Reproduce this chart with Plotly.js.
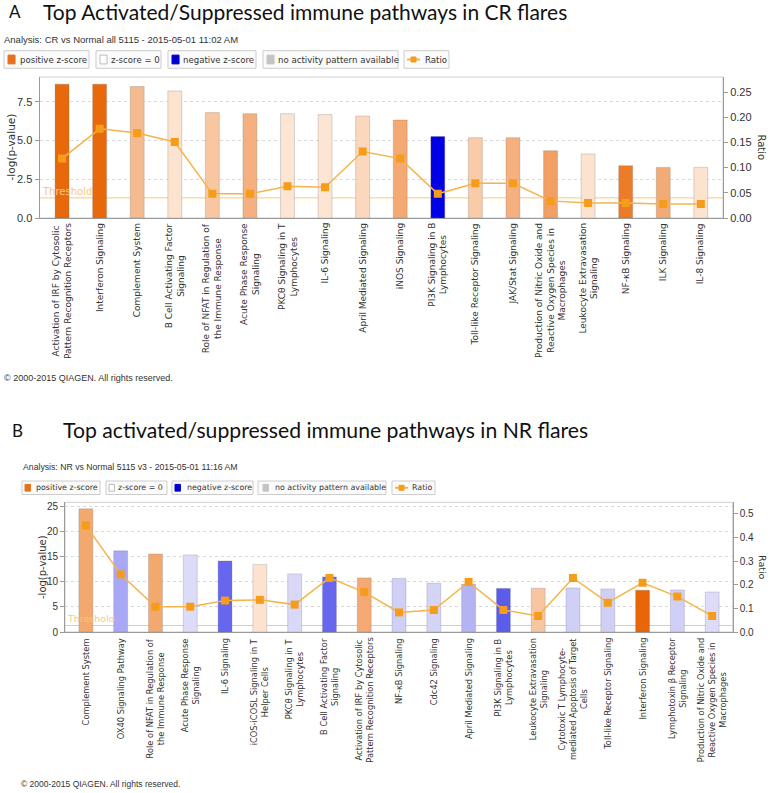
<!DOCTYPE html>
<html>
<head>
<meta charset="utf-8">
<script src="https://cdn.plot.ly/plotly-3.0.1.min.js"></script>
<style>html,body{margin:0;padding:0;background:#fff;}#chart{width:770px;height:793px;}</style>
</head>
<body>
<div id="chart"></div>
<script>
// ---------- DATA: Panel A (CR flares) ----------
const pathwaysA = [
  "Activation of IRF by Cytosolic<br>Pattern Recognition Receptors",
  "Interferon Signaling",
  "Complement System",
  "B Cell Activating Factor<br>Signaling",
  "Role of NFAT in Regulation of<br>the Immune Response",
  "Acute Phase Response<br>Signaling",
  "PKCθ Signaling in T<br>Lymphocytes",
  "IL-6 Signaling",
  "April Mediated Signaling",
  "iNOS Signaling",
  "PI3K Signaling in B<br>Lymphocytes",
  "Toll-like Receptor Signaling",
  "JAK/Stat Signaling",
  "Production of Nitric Oxide and<br>Reactive Oxygen Species in<br>Macrophages",
  "Leukocyte Extravasation<br>Signaling",
  "NF-κB Signaling",
  "ILK Signaling",
  "IL-8 Signaling"
];
const negLogPA = [8.64, 8.64, 8.49, 8.21, 6.81, 6.74, 6.74, 6.68, 6.59, 6.33, 5.26, 5.19, 5.19, 4.35, 4.14, 3.38, 3.27, 3.27];
const ratioA   = [0.118, 0.177, 0.169, 0.151, 0.048, 0.048, 0.063, 0.061, 0.132, 0.118, 0.048, 0.069, 0.069, 0.034, 0.030, 0.030, 0.028, 0.028];
const thresholdA = 1.3;

// ---------- DATA: Panel B (NR flares) ----------
const pathwaysB = [
  "Complement System",
  "OX40 Signaling Pathway",
  "Role of NFAT in Regulation of<br>the Immune Response",
  "Acute Phase Response<br>Signaling",
  "IL-6 Signaling",
  "iCOS-iCOSL Signaling in T<br>Helper Cells",
  "PKCθ Signaling in T<br>Lymphocytes",
  "B Cell Activating Factor<br>Signaling",
  "Activation of IRF by Cytosolic<br>Pattern Recognition Receptors",
  "NF-κB Signaling",
  "Cdc42 Signaling",
  "April Mediated Signaling",
  "PI3K Signaling in B<br>Lymphocytes",
  "Leukocyte Extravasation<br>Signaling",
  "Cytotoxic T Lymphocyte-<br>mediated Apoptosis of Target<br>Cells",
  "Toll-like Receptor Signaling",
  "Interferon Signaling",
  "Lymphotoxin β Receptor<br>Signaling",
  "Production of Nitric Oxide and<br>Reactive Oxygen Species in<br>Macrophages"
];
const negLogPB = [24.6, 16.2, 15.6, 15.4, 14.2, 13.5, 11.6, 11.0, 10.8, 10.7, 9.75, 9.55, 8.7, 8.75, 8.8, 8.6, 8.35, 8.4, 8.0];
const ratioB   = [0.451, 0.244, 0.107, 0.107, 0.133, 0.136, 0.116, 0.229, 0.169, 0.083, 0.093, 0.212, 0.093, 0.068, 0.229, 0.124, 0.208, 0.150, 0.068];
const thresholdB = 1.3;

// ---------- TEXT ----------
const titleA = "Top Activated/Suppressed immune pathways in CR flares";
const titleB = "Top activated/suppressed immune pathways in NR flares";
const analysisA = "Analysis: CR vs Normal all 5115 - 2015-05-01 11:02 AM";
const analysisB = "Analysis: NR vs Normal 5115 v3 - 2015-05-01 11:16 AM";
const legendLabels = ["positive z-score", "z-score = 0", "negative z-score", "no activity pattern available", "Ratio"];
const copyright = "© 2000-2015 QIAGEN. All rights reserved.";

// ---------- STYLE (bar colours encode z-score) ----------
const barColorsA = ["#e8690c","#e8690c","#f5bb90","#fbe3d0","#f8c6a0","#f4b07f","#fde5d3","#fde5d3","#fbd8bd","#f4a872",
                    "#0000e6","#f9cba8","#f5b080","#f19f62","#fce3d0","#ec7c28","#f3ab76","#fce3d0"];
const barColorsB = ["#f3a86e","#a8a8f6","#f3a86e","#dcdcf8","#6666ee","#fde3cf","#d8d8f8","#6666ee","#f4aa72","#d0d0f6",
                    "#d4d4f7","#b4b4f4","#5c5cea","#f7c6a0","#d0d0f6","#d0d0f6","#e86508","#d0d0f6","#dcdcf8"];
const legendSwatch = ["#e8701a","#ffffff","#0000d0","#c4c4c4"];

const W = 770, H = 793;
const px = x => x / W;
const py = y => 1 - y / H;

const lineCol = "#f5b44a", markCol = "#f59c1a", thrCol = "#f7c97f";
const axisFont = {family: "Liberation Sans, Arial, sans-serif", size: 11, color: "#333"};

const traces = [
  {type: "bar", x: pathwaysA, y: negLogPA, xaxis: "x", yaxis: "y", width: 0.37,
   marker: {color: barColorsA, line: {color: "rgba(120,100,90,0.25)", width: 1}}, hoverinfo: "x+y"},
  {type: "scatter", mode: "lines+markers", x: pathwaysA, y: ratioA, xaxis: "x", yaxis: "y2",
   line: {color: lineCol, width: 1.5}, marker: {symbol: "square", size: 8, color: markCol}},
  {type: "bar", x: pathwaysB, y: negLogPB, xaxis: "x2", yaxis: "y3", width: 0.4,
   marker: {color: barColorsB, line: {color: "rgba(110,110,140,0.25)", width: 1}}, hoverinfo: "x+y"},
  {type: "scatter", mode: "lines+markers", x: pathwaysB, y: ratioB, xaxis: "x2", yaxis: "y4",
   line: {color: lineCol, width: 1.5}, marker: {symbol: "square", size: 8, color: markCol}}
];

const catAxis = (dom, anchor, n) => ({
  domain: dom, anchor: anchor, type: "category", range: [-0.6, n - 1 + 0.59],
  showticklabels: false,
  showline: true, linecolor: "#9a9a9a", linewidth: 1, ticks: "", showgrid: false, zeroline: false,
  automargin: false, fixedrange: true
});
const leftAxis = (dom, anchor, range, dtick, fmt, size) => ({
  domain: dom, anchor: anchor, range: range, dtick: dtick, tick0: 0, tickformat: fmt,
  showline: true, linecolor: "#9a9a9a", linewidth: 1, ticks: "outside", ticklen: 4, tickcolor: "#9a9a9a",
  showgrid: true, gridcolor: "#d9d9d9", griddash: "3px,3px", zeroline: false,
  tickfont: Object.assign({}, axisFont, {size: size}), automargin: false, fixedrange: true
});
const rightAxis = (over, anchor, range, dtick, fmt, size) => ({
  overlaying: over, anchor: anchor, side: "right", range: range, dtick: dtick, tick0: 0, tickformat: fmt,
  showline: true, linecolor: "#9a9a9a", linewidth: 1, ticks: "outside", ticklen: 4, tickcolor: "#9a9a9a",
  showgrid: false, zeroline: false, tickfont: Object.assign({}, axisFont, {size: size}), automargin: false, fixedrange: true
});

const domAx = [px(39.5), px(723)], domAy = [py(218), py(77)];
const domBx = [px(65), px(732.7)], domBy = [py(632), py(502.3)];

const shapes = [], annotations = [];

// category labels (rotated, lines centred like the original)
pathwaysA.forEach(c => annotations.push({xref: "x", yref: "paper", x: c, y: py(221), xanchor: "center", yanchor: "top",
  textangle: -90, align: "center", showarrow: false, text: c,
  font: {family: "DejaVu Sans, sans-serif", size: 9.0, color: "#333"}}));
pathwaysB.forEach(c => annotations.push({xref: "x2", yref: "paper", x: c, y: py(636), xanchor: "center", yanchor: "top",
  textangle: -90, align: "center", showarrow: false, text: c,
  font: {family: "DejaVu Sans, sans-serif", size: 8.3, color: "#333"}}));

// plot frames (top border)
shapes.push({type: "rect", xref: "x domain", yref: "y domain", x0: 0, x1: 1, y0: 0, y1: 1, line: {color: "#cfcfcf", width: 1}, layer: "below"});
shapes.push({type: "rect", xref: "x2 domain", yref: "y3 domain", x0: 0, x1: 1, y0: 0, y1: 1, line: {color: "#cfcfcf", width: 1}, layer: "below"});
// threshold lines
shapes.push({type: "line", xref: "x domain", yref: "y", x0: 0, x1: 1, y0: thresholdA, y1: thresholdA, line: {color: thrCol, width: 1}, layer: "below"});
shapes.push({type: "line", xref: "x2 domain", yref: "y3", x0: 0, x1: 1, y0: thresholdB, y1: thresholdB, line: {color: thrCol, width: 1}, layer: "below"});
annotations.push({xref: "x domain", yref: "y", x: 0, y: thresholdA, xanchor: "left", yanchor: "bottom", showarrow: false,
  text: "Threshold", font: {family: "DejaVu Sans, sans-serif", size: 10, color: thrCol}, yshift: -1});
annotations.push({xref: "x2 domain", yref: "y3", x: 0, y: thresholdB, xanchor: "left", yanchor: "bottom", showarrow: false,
  text: "Threshold", font: {family: "DejaVu Sans, sans-serif", size: 9.5, color: thrCol}, yshift: -1});

// titles
const titleFont = s => ({family: "Lato, Open Sans, sans-serif", size: s, color: "#111"});
annotations.push({xref: "paper", yref: "paper", x: px(7), y: py(12), xanchor: "left", yanchor: "middle", showarrow: false, text: "A", font: titleFont(17)});
annotations.push({xref: "paper", yref: "paper", x: px(41), y: py(12), xanchor: "left", yanchor: "middle", showarrow: false, text: titleA, font: titleFont(21)});
annotations.push({xref: "paper", yref: "paper", x: px(10), y: py(430), xanchor: "left", yanchor: "middle", showarrow: false, text: "B", font: titleFont(17)});
annotations.push({xref: "paper", yref: "paper", x: px(61), y: py(430), xanchor: "left", yanchor: "middle", showarrow: false, text: titleB, font: titleFont(21.2)});

// analysis lines
annotations.push({xref: "paper", yref: "paper", x: px(2), y: py(39), xanchor: "left", yanchor: "middle", showarrow: false, text: analysisA,
  font: {family: "Liberation Sans, Arial, sans-serif", size: 9.5, color: "#333"}});
annotations.push({xref: "paper", yref: "paper", x: px(21), y: py(467), xanchor: "left", yanchor: "middle", showarrow: false, text: analysisB,
  font: {family: "Liberation Sans, Arial, sans-serif", size: 8.7, color: "#333"}});

// copyright
annotations.push({xref: "paper", yref: "paper", x: px(2), y: py(378), xanchor: "left", yanchor: "middle", showarrow: false, text: copyright,
  font: {family: "Liberation Sans, Arial, sans-serif", size: 9, color: "#333"}});
annotations.push({xref: "paper", yref: "paper", x: px(19), y: py(784), xanchor: "left", yanchor: "middle", showarrow: false, text: copyright,
  font: {family: "Liberation Sans, Arial, sans-serif", size: 8.5, color: "#333"}});

// axis titles
annotations.push({xref: "paper", yref: "paper", x: px(10), y: py(147.5), xanchor: "center", yanchor: "middle", textangle: -90, showarrow: false, text: "-log(p-value)",
  font: {family: "DejaVu Sans, sans-serif", size: 10.5, color: "#333"}});
annotations.push({xref: "paper", yref: "paper", x: px(761), y: py(147.5), xanchor: "center", yanchor: "middle", textangle: 90, showarrow: false, text: "Ratio",
  font: {family: "DejaVu Sans, sans-serif", size: 10, color: "#333"}});
annotations.push({xref: "paper", yref: "paper", x: px(42), y: py(567), xanchor: "center", yanchor: "middle", textangle: -90, showarrow: false, text: "-log(p-value)",
  font: {family: "DejaVu Sans, sans-serif", size: 10, color: "#333"}});
annotations.push({xref: "paper", yref: "paper", x: px(763), y: py(567), xanchor: "center", yanchor: "middle", textangle: 90, showarrow: false, text: "Ratio",
  font: {family: "DejaVu Sans, sans-serif", size: 9.5, color: "#333"}});

// legend boxes
function legendRow(boxes, y0, y1, fontSize) {
  boxes.forEach((b, i) => {
    shapes.push({type: "rect", xref: "paper", yref: "paper", x0: px(b[0]), x1: px(b[1]), y0: py(y1), y1: py(y0),
      line: {color: "#cdcdcd", width: 1}, fillcolor: "#fbfbfb"});
    const ym = (y0 + y1) / 2, sh = (y1 - y0) * 0.5;
    if (i < 4) {
      shapes.push({type: "rect", xref: "paper", yref: "paper", x0: px(b[2]), x1: px(b[2] + sh * 0.8), y0: py(ym + sh / 2), y1: py(ym - sh / 2),
        line: {color: i === 1 ? "#bbbbbb" : legendSwatch[i], width: 1}, fillcolor: legendSwatch[i]});
    } else {
      shapes.push({type: "line", xref: "paper", yref: "paper", x0: px(b[2]), x1: px(b[2] + 13), y0: py(ym), y1: py(ym),
        line: {color: lineCol, width: 2}});
      shapes.push({type: "rect", xref: "paper", yref: "paper", x0: px(b[2] + 4), x1: px(b[2] + 9), y0: py(ym + 2.5), y1: py(ym - 2.5),
        line: {color: markCol, width: 1}, fillcolor: markCol});
    }
    annotations.push({xref: "paper", yref: "paper", x: px(b[3]), y: py(ym), xanchor: "left", yanchor: "middle", showarrow: false,
      text: legendLabels[i], font: {family: "DejaVu Sans, sans-serif", size: fontSize, color: "#333"}});
  });
}
legendRow([[4, 89, 8, 18], [96, 161, 100, 109], [168, 256, 172, 181], [263, 398, 267, 276], [404, 449, 407, 423]], 50.7, 68.3, 8.6);
legendRow([[22, 100, 25, 34], [106, 167, 109, 116], [172, 253, 175, 185], [258, 386, 263, 273], [392, 435, 395, 410]], 481, 494.5, 7.9);

const layout = {
  width: W, height: H, margin: {l: 0, r: 0, t: 0, b: 0},
  paper_bgcolor: "#ffffff", plot_bgcolor: "#ffffff", showlegend: false, bargap: 0.6,
  xaxis: catAxis(domAx, "y", pathwaysA.length),
  yaxis: leftAxis(domAy, "x", [0, 9.11], 2.5, ".1f", 11),
  yaxis2: rightAxis("y", "x", [0, 0.28], 0.05, ".2f", 11),
  xaxis2: catAxis(domBx, "y3", pathwaysB.length),
  yaxis3: leftAxis(domBy, "x2", [0, 25.9], 5, "d", 10),
  yaxis4: rightAxis("y3", "x2", [0, 0.549], 0.1, ".1f", 10),
  shapes: shapes, annotations: annotations
};

Plotly.newPlot("chart", traces, layout, {displayModeBar: false, staticPlot: true});
</script>
</body>
</html>
